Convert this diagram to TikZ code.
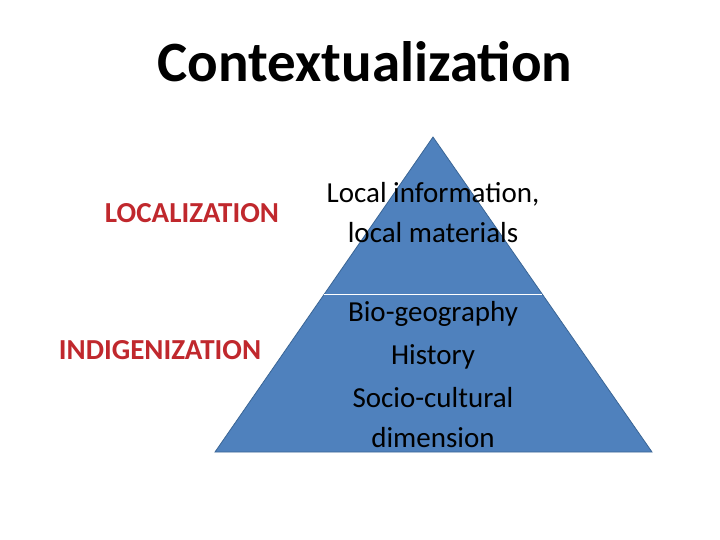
\documentclass[tikz,border=0pt]{standalone}
\usepackage{fontspec}
\setmainfont{Carlito}
\usetikzlibrary{positioning}
\definecolor{pyrBlue}{HTML}{4F81BD}
\definecolor{pyrEdge}{HTML}{3A6595}
\definecolor{lblRed}{HTML}{C0282D}

\begin{document}
\begin{tikzpicture}[
    x=1pt, y=-1pt,
    level/.style={font=\fontsize{29}{40}\selectfont, align=center},
    side/.style={font=\fontsize{29}{34}\selectfont\bfseries, text=lblRed},
]
\useasboundingbox (0,0) rectangle (720,539);

%-----------------------------------------------------------------------
% title
\node[font=\fontsize{57}{64}\selectfont\bfseries] (title) at (365,62) {Contextualization};

%-----------------------------------------------------------------------
% pyramid
\coordinate (apex) at (433,137);
\coordinate (baseL) at (215,452);
\coordinate (baseR) at (652,452);
\fill[pyrBlue] (apex) -- (baseR) -- (baseL) -- cycle;
\draw[pyrEdge, thick] (apex) -- (baseR) -- (baseL) -- cycle;
\coordinate (cutL) at (324,294);
\coordinate (cutR) at (542,294);
\draw[white, thick] (cutL) -- (cutR);

% level texts
\node[level] (local) at (433,213) {Local information,\\local materials};
\node[level] (bio) at (433,314) {Bio-geography};
\node[level] (hist) at (433,357) {History};
\node[level] (socio) at (433,418) {Socio-cultural\\dimension};

%-----------------------------------------------------------------------
% side labels
\node[side] (loc) at (192,213) {LOCALIZATION};
\node[side] (indi) at (160,350) {INDIGENIZATION};
\end{tikzpicture}
\end{document}
